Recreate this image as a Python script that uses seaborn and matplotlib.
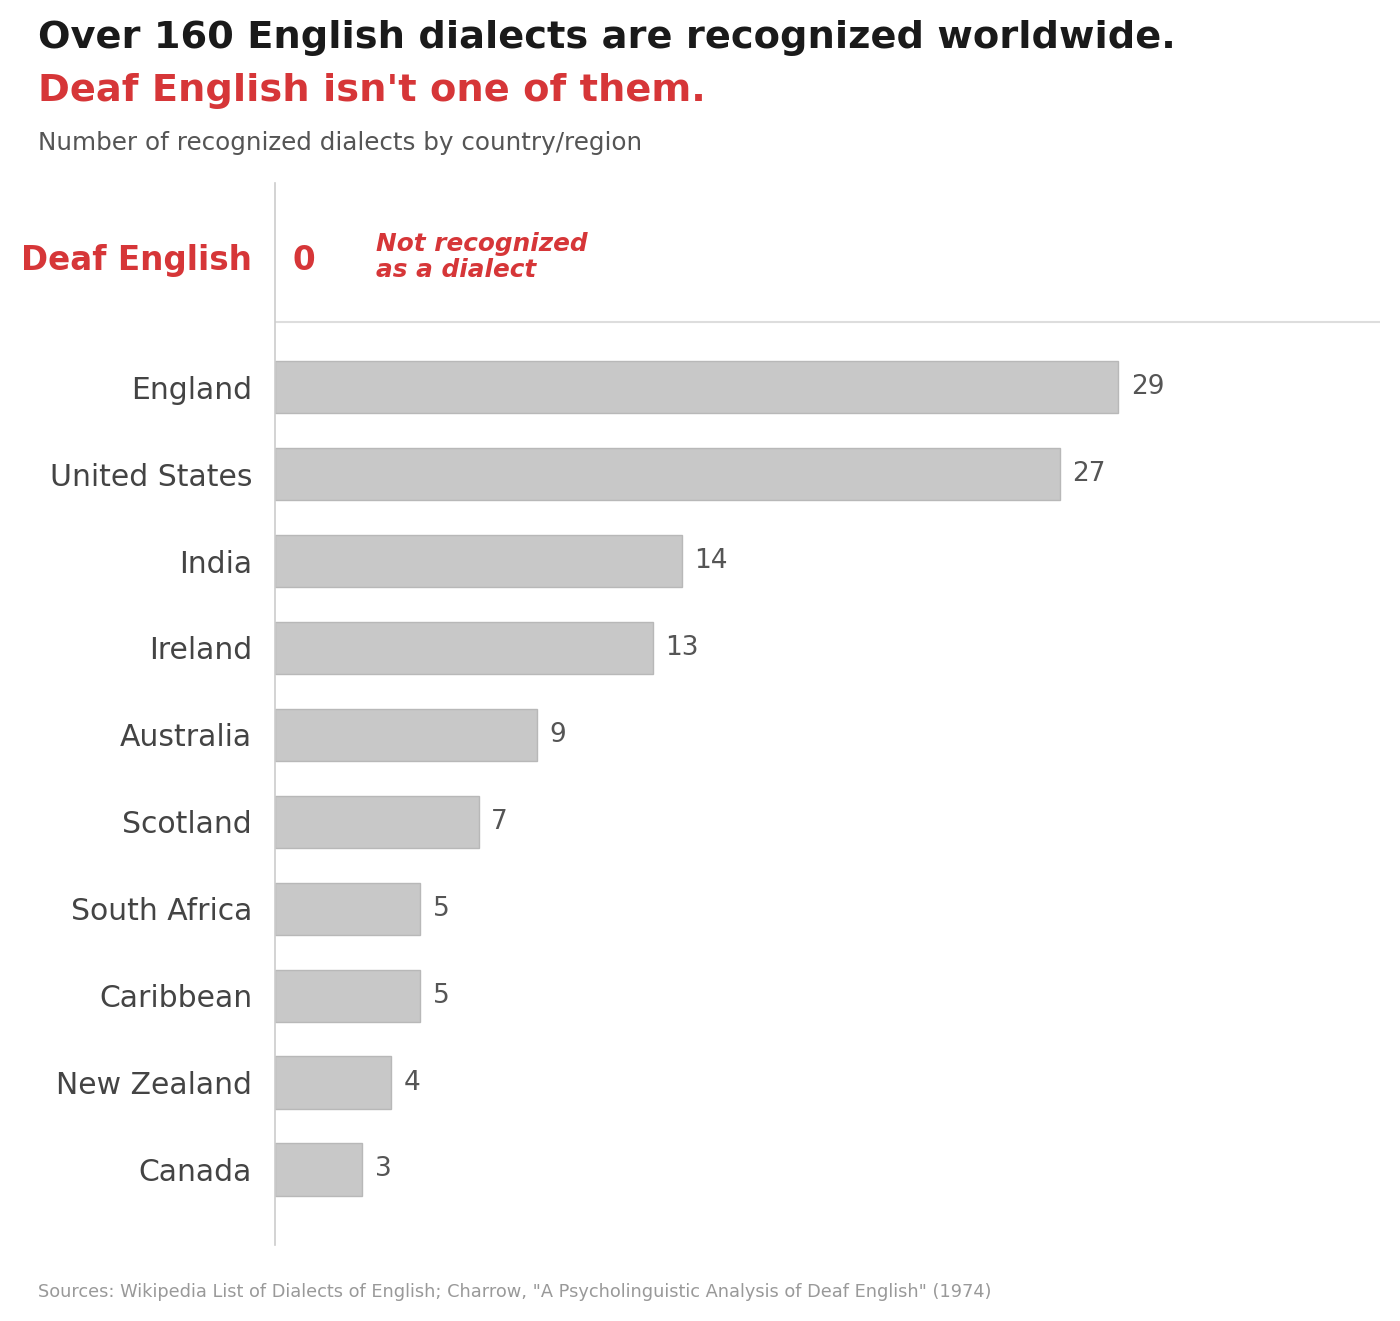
import matplotlib
matplotlib.use('Agg')
import matplotlib.pyplot as plt
import seaborn as sns

# data
countries = ['England', 'United States', 'India', 'Ireland', 'Australia',
             'Scotland', 'South Africa', 'Caribbean', 'New Zealand', 'Canada']
dialects = [29, 27, 14, 13, 9, 7, 5, 5, 4, 3]
deaf_label = 'Deaf English'
deaf_value = 0
deaf_note = 'Not recognized\nas a dialect'

RED = '#d63638'
sns.set_style('white')
plt.rcParams['font.family'] = ['DejaVu Sans']

fig = plt.figure(figsize=(14, 13.21), dpi=100)
ax = fig.add_axes([0.1964, 0.0575, 0.7893, 0.804])

sns.barplot(x=dialects, y=countries, orient='h', color='#c8c8c8',
            edgecolor='#b8b8b8', linewidth=1, width=0.6, saturation=1, ax=ax)

ax.bar_label(ax.containers[0], padding=9, fontsize=19, color='#555555')

ax.set_xlim(0, 38)
ax.set_ylim(9.87, -2.35)
ax.set_xticks([])
ax.set_xlabel('')
ax.set_ylabel('')

# ticks: countries plus the Deaf English row on top
ax.set_yticks(list(range(len(countries))) + [-1.5])
ax.set_yticklabels(countries + [deaf_label])
ax.tick_params(axis='y', length=0, pad=16.5, labelsize=21.5, labelcolor='#444444')
lab = ax.get_yticklabels()[-1]
lab.set_color(RED)
lab.set_fontweight('bold')
lab.set_fontsize(23.5)

# Deaf English value + note
ax.text(1.0, -1.46, str(deaf_value), color=RED, fontsize=23.5, fontweight='bold',
        ha='center', va='center')
ax.text(3.47, -1.5, deaf_note, color=RED, fontsize=17.8, fontweight='bold',
        fontstyle='italic', ha='left', va='center', linespacing=1.12)

# separator line
ax.axhline(-0.75, color='#dddddd', lw=1.5)

for s in ['top', 'right', 'bottom']:
    ax.spines[s].set_visible(False)
ax.spines['left'].set_color('#cccccc')
ax.spines['left'].set_linewidth(1.2)

# titles
fig.text(38 / 1400, 1 - 38 / 1321, 'Over 160 English dialects are recognized worldwide.',
         fontsize=27.6, fontweight='bold', color='#1a1a1a', ha='left', va='center')
fig.text(38 / 1400, 1 - 91 / 1321, "Deaf English isn't one of them.",
         fontsize=27.6, fontweight='bold', color=RED, ha='left', va='center')
fig.text(38 / 1400, 1 - 143 / 1321, 'Number of recognized dialects by country/region',
         fontsize=17.7, color='#555555', ha='left', va='center')
fig.text(38 / 1400, 1 - 1292 / 1321,
         'Sources: Wikipedia List of Dialects of English; Charrow, '
         '"A Psycholinguistic Analysis of Deaf English" (1974)',
         fontsize=12.8, color='#999999', ha='left', va='center')

fig.savefig('out.png', dpi=100, facecolor='white')
